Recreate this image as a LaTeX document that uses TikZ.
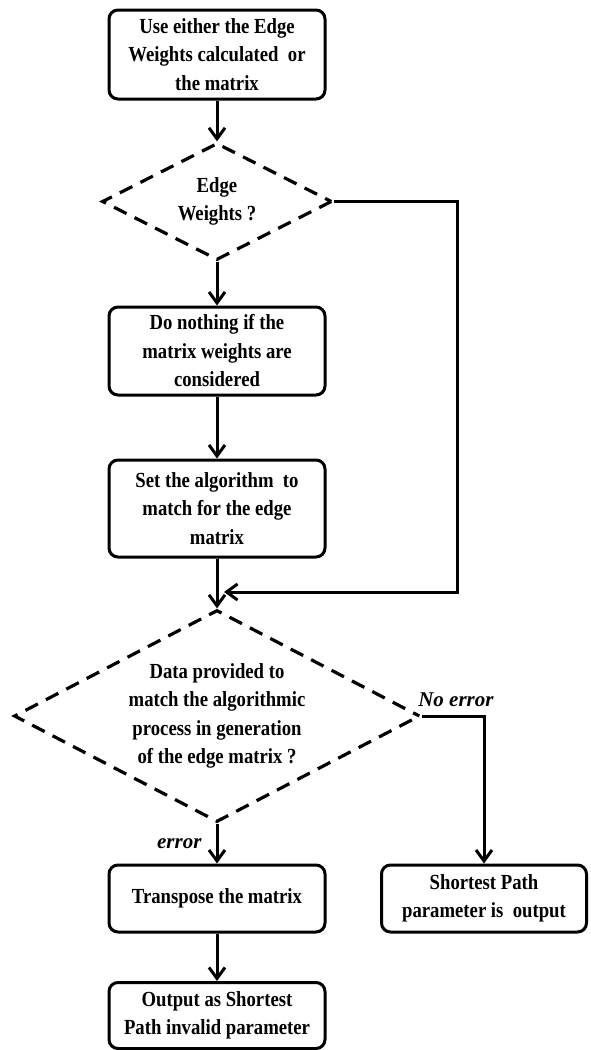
\documentclass[tikz,border=0pt]{standalone}
\usepackage{fontspec}
\setmainfont{Liberation Serif}[FakeStretch=0.87]
\newfontfamily\labelfont{Liberation Serif}
\usetikzlibrary{shapes.geometric,arrows.meta}

\begin{document}
\begin{tikzpicture}[x=1pt,y=-1pt,
  every node/.style={font=\bfseries\fontsize{21.5}{28.5}\selectfont, align=center},
  stepbox/.style={draw, line width=3pt, rounded corners=9pt, minimum width=216pt, inner sep=2pt},
  decision/.style={draw, diamond, aspect=2, inner sep=0pt, line width=3.2pt,
                   dash pattern=on 14pt off 9pt, dash phase=7pt},
  flow/.style={line width=3pt, -{Straight Barb[length=11pt,width=16pt]}},
  edgelabel/.style={font=\labelfont\bfseries\itshape\fontsize{21}{24}\selectfont, inner sep=0pt}
]
\useasboundingbox (0,0) rectangle (590,1050);

% process boxes and decisions
\node[stepbox, minimum height=89pt] (use) at (217,54.5)
  {Use either the Edge\\Weights calculated~ or\\the matrix};
\node[decision, minimum width=230pt, minimum height=117pt] (weights) at (217,201.5)
  {Edge\\Weights ?};
\node[stepbox, minimum height=88pt] (nothing) at (217,351)
  {Do nothing if the\\matrix weights are\\considered};
\node[stepbox, minimum height=97pt] (setalg) at (217,508.5)
  {Set the algorithm~ to\\match for the edge\\matrix};
\node[decision, minimum width=406pt, minimum height=212pt] (data) at (217,716)
  {Data provided to\\match the algorithmic\\process in generation\\of the edge matrix ?};
\node[stepbox, minimum height=67pt] (transpose) at (217,898.5)
  {Transpose the matrix};
\node[stepbox, minimum width=205pt, minimum height=67pt] (shortest) at (484,898.5)
  {Shortest Path\\parameter is~ output};
\node[stepbox, minimum height=66pt] (invalid) at (217,1015.5)
  {Output as Shortest\\Path invalid parameter};

% merge point of the bypass line
\coordinate (merge) at (224,592);

% connectors
\draw[flow] (use) -- (weights);
\draw[flow] (weights) -- (nothing);
\draw[flow] (nothing) -- (setalg);
\draw[flow] (setalg) -- (data);
\draw[flow] (weights.east) -- ++(124,0) |- (merge);
\draw[flow] (data.east) -- (data.east -| shortest.north)
  node[edgelabel, pos=0.55, above=8pt] {No error} -- (shortest.north);
\draw[flow] (data.south) -- node[edgelabel, left=14pt] {error} (transpose.north);
\draw[flow] (transpose) -- (invalid);
\end{tikzpicture}
\end{document}
